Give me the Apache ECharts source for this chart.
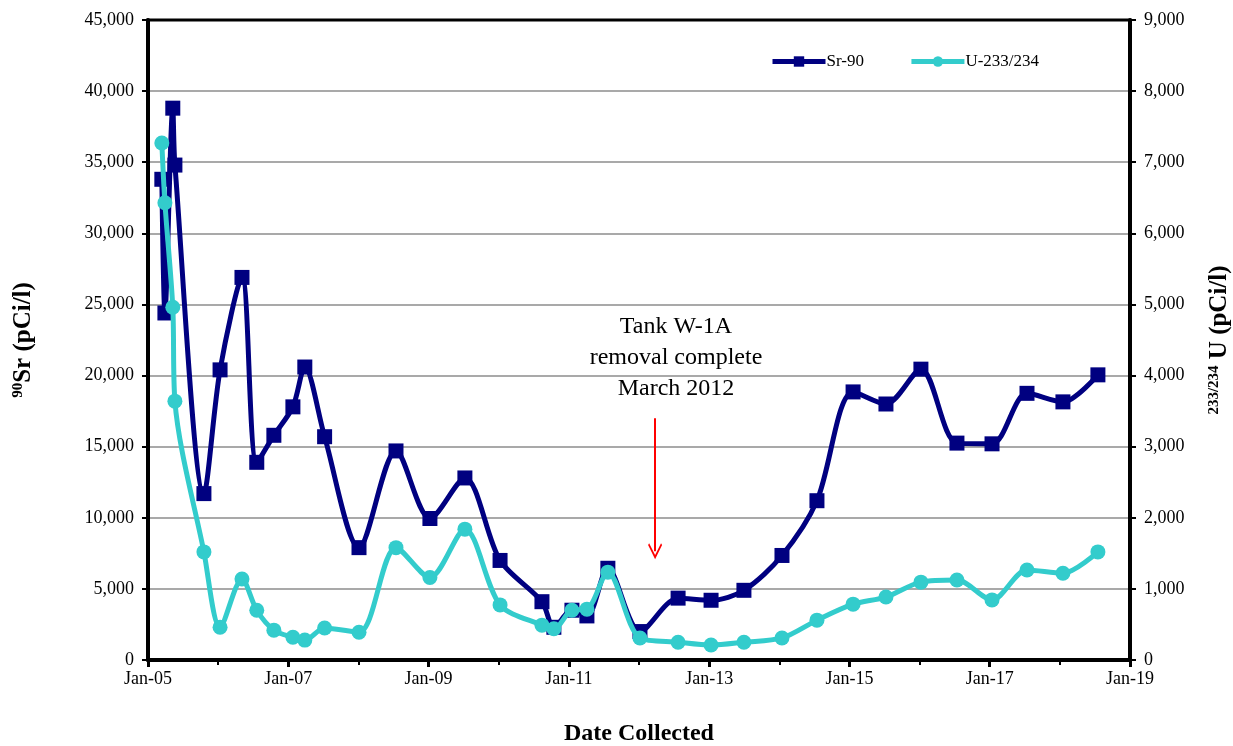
<!DOCTYPE html>
<html lang="en">
<head>
<meta charset="UTF-8">
<title>Sr-90 and U-233/234</title>
<script src="https://cdn.jsdelivr.net/npm/echarts@6/dist/echarts.min.js"></script>
<style>
  html, body { margin: 0; padding: 0; background: #fff; }
  #main { width: 1233px; height: 746px; }
</style>
</head>
<body>
<div id="main"></div>
<script>
// sample dates
var dates = ['2005-03-14','2005-03-30','2005-05-10','2005-05-21','2005-10-19','2006-01-11','2006-05-05',
  '2006-07-21','2006-10-18','2007-01-25','2007-03-28','2007-07-09','2008-01-04','2008-07-15','2009-01-08',
  '2009-07-09','2010-01-08','2010-08-14','2010-10-15','2011-01-17','2011-04-05','2011-07-23','2012-01-06',
  '2012-07-23','2013-01-11','2013-07-01','2014-01-15','2014-07-16','2015-01-20','2015-07-10','2016-01-08',
  '2016-07-14','2017-01-13','2017-07-14','2018-01-17','2018-07-18'];

// 90Sr, pCi/l (left axis)
var sr90 = [33800, 24400, 38800, 34800, 11700, 20400, 26900, 13900, 15800, 17800, 20600, 15700,
  7900, 14700, 9950, 12800, 7000, 4100, 2300, 3500, 3100, 6450, 2000, 4350, 4200, 4900,
  7350, 11200, 18850, 18000, 20450, 15250, 15200, 18750, 18150, 20050];

// 233/234U, pCi/l (right axis)
var u234 = [7270, 6430, 4960, 3640, 1520, 460, 1140, 700, 420, 320, 280, 450,
  390, 1580, 1160, 1840, 775, 490, 440, 700, 715, 1235, 310, 250, 210, 250,
  310, 560, 785, 885, 1095, 1125, 845, 1265, 1220, 1520];

var noteLines = ['Tank W-1A', 'removal complete', 'March 2012'];
var noteDate = '2012-03-25';

var serif = '"Liberation Serif", "Times New Roman", serif';

// date string -> decimal year
function toYear(s) {
    var p = s.split('-');
    var y = +p[0];
    var t0 = Date.UTC(y, 0, 1), t1 = Date.UTC(y + 1, 0, 1);
    return y + (Date.UTC(y, +p[1] - 1, +p[2]) - t0) / (t1 - t0);
}

function pairs(vals) {
    return vals.map(function (v, i) { return [toYear(dates[i]), v]; });
}

var myChart = echarts.init(document.getElementById('main'));

var option = {
    animation: false,
    backgroundColor: '#fff',
    grid: {
        left: 148, right: 103, top: 20, bottom: 86,
        outerBoundsMode: 'none',
        containLabel: false,
        show: true, borderColor: '#000', borderWidth: 3, backgroundColor: 'transparent'
    },
    legend: {
        left: 765, top: 48,
        itemWidth: 53, itemHeight: 13, itemGap: 45,
        lineStyle: { width: 5 },
        textStyle: { fontFamily: serif, fontSize: 17, color: '#000', padding: [0, 0, 0, -4] },
        data: ['Sr-90', 'U-233/234']
    },
    xAxis: {
        type: 'value',
        min: 2005, max: 2019, interval: 2,
        name: 'Date Collected',
        nameLocation: 'middle',
        nameGap: 62,
        nameTextStyle: { fontFamily: serif, fontSize: 24, fontWeight: 'bold', color: '#000' },
        axisLine: { onZero: false, lineStyle: { color: '#000', width: 4 } },
        axisTick: { show: true, length: 7, lineStyle: { color: '#000', width: 3 } },
        minorTick: { show: true, splitNumber: 2, length: 5, lineStyle: { color: '#000', width: 2 } },
        axisLabel: {
            fontFamily: serif, fontSize: 18, color: '#000', margin: 10,
            formatter: function (v) { return 'Jan-' + String(v).slice(2); }
        },
        splitLine: { show: false }
    },
    yAxis: [{
        type: 'value',
        min: 0, max: 45000, interval: 5000,
        name: '{sup|90}{b|Sr (pCi/l)}',
        nameLocation: 'middle',
        nameRotate: 90,
        nameGap: 112,
        nameTextStyle: {
            rich: {
                sup: { fontFamily: serif, fontSize: 15, fontWeight: 'bold', color: '#000', padding: [0, 0, 10, 0] },
                b: { fontFamily: serif, fontSize: 25, fontWeight: 'bold', color: '#000' }
            }
        },
        axisLine: { show: true, lineStyle: { color: '#000', width: 4 } },
        axisTick: { show: true, length: 6, lineStyle: { color: '#000', width: 2 } },
        axisLabel: {
            fontFamily: serif, fontSize: 18, color: '#000', margin: 14,
            formatter: function (v) { return v.toLocaleString('en-US'); }
        },
        splitLine: { showMaxLine: false, showMinLine: false, lineStyle: { color: '#8c8c8c', width: 1.5 } }
    }, {
        type: 'value',
        min: 0, max: 9000, interval: 1000,
        name: '{sup|233/234}{b| U (pCi/l)}',
        nameLocation: 'middle',
        nameRotate: 90,
        nameGap: 77,
        nameTextStyle: {
            rich: {
                sup: { fontFamily: serif, fontSize: 15, fontWeight: 'bold', color: '#000', padding: [0, 0, 10, 0] },
                b: { fontFamily: serif, fontSize: 25, fontWeight: 'bold', color: '#000' }
            }
        },
        axisLine: { show: true, lineStyle: { color: '#000', width: 4 } },
        axisTick: { show: true, length: 6, lineStyle: { color: '#000', width: 2 } },
        axisLabel: {
            fontFamily: serif, fontSize: 18, color: '#000', margin: 14,
            formatter: function (v) { return v.toLocaleString('en-US'); }
        },
        splitLine: { show: false }
    }],
    series: [{
        name: 'Sr-90',
        type: 'line',
        yAxisIndex: 0,
        data: pairs(sr90),
        smooth: 0.3,
        symbol: 'rect',
        symbolSize: 15,
        z: 2,
        itemStyle: { color: '#000080' },
        lineStyle: { color: '#000080', width: 5 },
        markLine: {
            silent: true,
            symbol: ['none', 'path://M10,0 L20,17 L18.5,19 L10,5 L1.5,19 L0,17 Z'],
            symbolSize: [14, 16],
            lineStyle: { color: '#ff0000', width: 2, type: 'solid' },
            label: { show: false },
            data: [[
                { coord: [toYear(noteDate), 17000] },
                { coord: [toYear(noteDate), 7650] }
            ]]
        }
    }, {
        name: 'U-233/234',
        type: 'line',
        yAxisIndex: 1,
        data: pairs(u234),
        smooth: 0.3,
        symbol: 'circle',
        symbolSize: 15,
        z: 3,
        itemStyle: { color: '#33cccc' },
        lineStyle: { color: '#33cccc', width: 5 }
    }],
    graphic: noteLines.map(function (t, i) {
        return {
            type: 'text',
            x: 676, y: 327 + i * 31,
            style: {
                text: t, fill: '#000',
                font: '24px ' + serif,
                textAlign: 'center', textVerticalAlign: 'middle'
            }
        };
    })
};

myChart.setOption(option);
</script>
</body>
</html>
